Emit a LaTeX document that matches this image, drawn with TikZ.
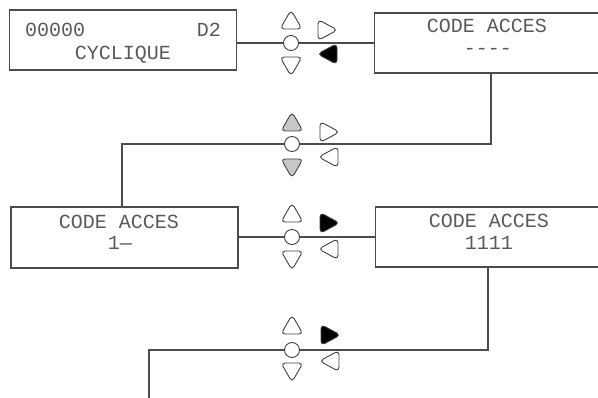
\documentclass[tikz,border=0pt]{standalone}
\usepackage{fontspec}
\setmonofont{Liberation Mono}
\begin{document}
\begin{tikzpicture}[x=1pt,y=-1pt,
  ln/.style={draw=black!70,line width=1.1pt},
  lcd/.style={draw=black!70,line width=1.1pt,rectangle,minimum width=227pt,minimum height=60pt,inner sep=0pt},
  knob/.style={draw=black!75,line width=0.9pt,circle,minimum size=15pt,inner sep=0pt,fill=white},
  tri/.style={draw=black!75,line width=0.9pt,rounded corners=4.2pt},
  txt/.style={font=\ttfamily\fontsize{20}{20}\selectfont,text=black!65,inner sep=0pt,anchor=base}]
\useasboundingbox (0,0) rectangle (598,398);
\begin{scope}
\clip (0,0) rectangle (598,398);
% boxes
\node[lcd] (b1) at (123,40) {};
\node[lcd] (b2) at (488,43) {};
\node[lcd,minimum height=61pt] (b3) at (124.5,237.5) {};
\node[lcd] (b4) at (489,237) {};
% knobs
\node[knob] (c1) at (291,43) {};
\node[knob] (c2) at (292,144) {};
\node[knob] (c3) at (292,237) {};
\node[knob] (c4) at (292,350) {};
% texts
\node[txt,anchor=base west] (t1a) at (25,37) {00000};
\node[txt,anchor=base east] (t1b) at (221,37) {D2};
\node[txt] (t1c) at (123,60) {CYCLIQUE};
\node[txt] (t2a) at (487,33) {CODE ACCES};
\node[txt] (t2b) at (488,55) {----};
\node[txt] (t3a) at (119,229) {CODE ACCES};
\node[txt] (t3b) at (120,250) {1—};
\node[txt] (t4a) at (489,228) {CODE ACCES};
\node[txt] (t4b) at (489,250) {1111};
% connectors
\draw[ln] (b1.east |- c1.west) -- (c1.west);
\draw[ln] (c1.east) -- (b2.west);
\coordinate (k2r) at (491,144);
\coordinate (k2l) at (122,144);
\draw[ln] (b2.south -| k2r) -- (k2r) -- (c2.east);
\draw[ln] (c2.west) -- (k2l) -- (b3.north -| k2l);
\draw[ln] (b3.east |- c3.west) -- (c3.west);
\draw[ln] (c3.east) -- (b4.west |- c3.east);
\coordinate (k4r) at (488,350);
\coordinate (k4l) at (149,350);
\coordinate (k4e) at (149,398);
\draw[ln] (b4.south -| k4r) -- (k4r) -- (c4.east);
\draw[ln] (c4.west) -- (k4l) -- (k4e);
\end{scope}
% triangles
\newcommand\tup[3]{\draw[tri,fill=#3] (#1,#2+9) -- (#1+11,#2+9) -- (#1,#2-10) -- (#1-11,#2+9) -- cycle;}
\newcommand\tdn[3]{\draw[tri,fill=#3] (#1,#2-9) -- (#1+11,#2-9) -- (#1,#2+10) -- (#1-11,#2-9) -- cycle;}
\newcommand\trt[3]{\draw[tri,fill=#3] (#1-9,#2) -- (#1-9,#2-10.5) -- (#1+10.5,#2) -- (#1-9,#2+10.5) -- cycle;}
\newcommand\tlt[3]{\draw[tri,fill=#3] (#1+9,#2) -- (#1+9,#2-10.5) -- (#1-10.5,#2) -- (#1+9,#2+10.5) -- cycle;}
\tup{291}{20}{white} \tdn{291}{66}{white} \trt{327}{30}{white} \tlt{328}{54}{black}
\tup{292}{122}{black!22} \tdn{292}{168}{black!22} \trt{329}{132}{white} \tlt{329}{157}{white}
\tup{292}{213}{white} \tdn{292}{260}{white} \trt{329}{223}{black} \tlt{329}{249}{white}
\tup{292}{325}{white} \tdn{292}{372}{white} \trt{330}{335}{black} \tlt{330}{361}{white}
\end{tikzpicture}
\end{document}
